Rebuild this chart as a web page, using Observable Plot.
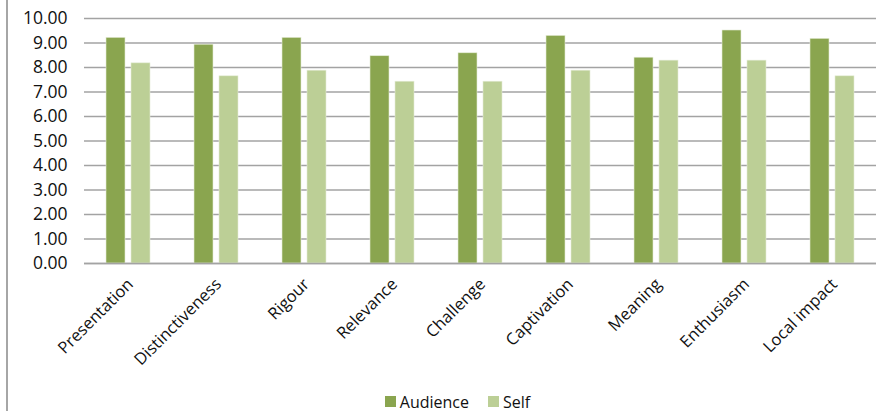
<!DOCTYPE html>
<html>
<head>
<meta charset="utf-8">
<script src="https://cdn.jsdelivr.net/npm/d3@7"></script>
<script src="https://cdn.jsdelivr.net/npm/@observablehq/plot@0.6"></script>
<style>
  html, body { margin: 0; padding: 0; background: #fff; }
  #wrap { position: relative; width: 880px; height: 411px; overflow: hidden; font-family: "Open Sans", sans-serif; background: #fff; }
  #chart { position: absolute; left: 0; top: 0; }
  #border { position: absolute; left: 6px; top: 0; width: 1.5px; height: 411px; background: #a6a6a6; z-index: 5; }
  #legend { position: absolute; left: 0; top: 385px; width: 880px; display: flex; justify-content: center; padding-left: 54px; box-sizing: border-box; }
  .lg-swatch svg { margin-right: 4px !important; }
  .lg-swatch { margin-right: 19px !important; }
</style>
</head>
<body>
<div id="wrap">
  <div id="chart"></div>
  <div id="legend"></div>
  <div id="border"></div>
</div>
<script>
const categories = ["Presentation", "Distinctiveness", "Rigour", "Relevance", "Challenge", "Captivation", "Meaning", "Enthusiasm", "Local impact"];
const series = ["Audience", "Self"];
const audience = [9.21, 8.93, 9.21, 8.46, 8.58, 9.29, 8.40, 9.51, 9.17];
const self = [8.17, 7.64, 7.87, 7.42, 7.42, 7.87, 8.28, 8.28, 7.64];
const yTicks = [0, 1, 2, 3, 4, 5, 6, 7, 8, 9, 10];
const colors = ["#8aa54f", "#bccf96"];

const data = [];
categories.forEach((c, i) => {
  data.push({category: c, series: series[0], value: audience[i]});
  data.push({category: c, series: series[1], value: self[i]});
});

const chart = Plot.plot({
  width: 880,
  height: 385,
  marginTop: 18,
  marginBottom: 122,
  marginLeft: 80,
  marginRight: 0,
  style: {fontFamily: "Open Sans, sans-serif", background: "transparent", color: "#1a1a1a"},
  fx: {domain: categories, paddingInner: 0, paddingOuter: 0, axis: null, label: null},
  x: {domain: series, paddingInner: 0.235, paddingOuter: 0.86, axis: null, label: null},
  y: {domain: [0, 10], axis: null, label: null},
  color: {domain: series, range: colors},
  marks: [
    Plot.gridY(yTicks, {stroke: "#a3a3a3", strokeOpacity: 1, strokeWidth: 1.5}),
    Plot.barY(data, {fx: "category", x: "series", y: "value", fill: "series", inset: 0, stroke: "#e4ecd6", strokeWidth: 0.6}),
    Plot.ruleY([0], {stroke: "#a3a3a3", strokeWidth: 1.5}),
    Plot.axisY(yTicks, {tickFormat: d => d.toFixed(2), tickSize: 0, tickPadding: 17, fontSize: 17.5, line: true, stroke: "#a3a3a3", strokeWidth: 1.5, fill: "#111", label: null}),
    Plot.axisFx({anchor: "bottom", tickRotate: -45, tickSize: 0, tickPadding: 18, dx: 2, fontSize: 16.5, fill: "#111", label: null})
  ]
});
document.getElementById("chart").appendChild(chart);

const legend = Plot.legend({
  color: {type: "ordinal", domain: series, range: colors},
  swatchSize: 11,
  className: "lg",
  style: {fontFamily: "Open Sans, sans-serif", fontSize: "16px", color: "#111"}
});
document.getElementById("legend").appendChild(legend);
</script>
</body>
</html>
